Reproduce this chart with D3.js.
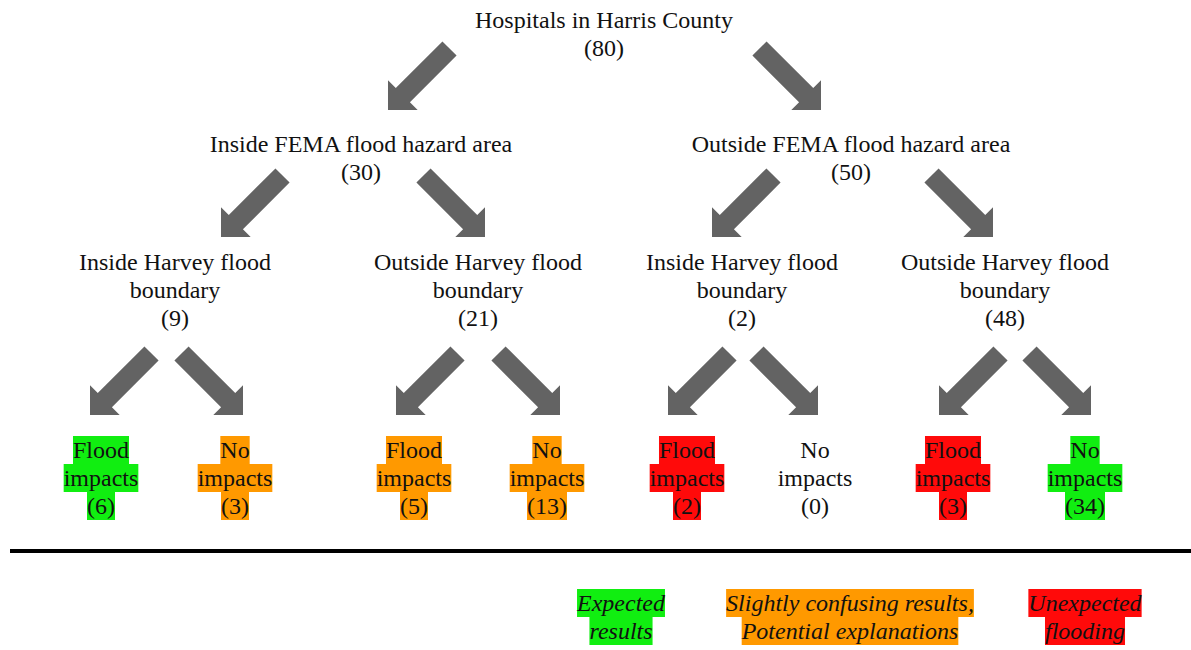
<!DOCTYPE html>
<html>
<head>
<meta charset="utf-8">
<script src="https://cdn.jsdelivr.net/npm/d3@7"></script>
<style>
  body { margin: 0; background: #fff; }
  svg { display: block; }
</style>
</head>
<body>
<svg id="chart" width="1191" height="650"></svg>
<script>
// tree data: labels, hospital counts, and which parent each node hangs from
var nodeLabels = [
    ["Hospitals in Harris County"],
    ["Inside FEMA flood hazard area"],
    ["Outside FEMA flood hazard area"],
    ["Inside Harvey flood", "boundary"],
    ["Outside Harvey flood", "boundary"],
    ["Inside Harvey flood", "boundary"],
    ["Outside Harvey flood", "boundary"],
    ["Flood", "impacts"], ["No", "impacts"],
    ["Flood", "impacts"], ["No", "impacts"],
    ["Flood", "impacts"], ["No", "impacts"],
    ["Flood", "impacts"], ["No", "impacts"]
];
var nodeCounts = [80, 30, 50, 9, 21, 2, 48, 6, 3, 5, 13, 2, 0, 3, 34];
var nodeParent = [null, 0, 0, 1, 1, 2, 2, 3, 3, 4, 4, 5, 5, 6, 6];
var nodeLevel  = [0, 1, 1, 2, 2, 2, 2, 3, 3, 3, 3, 3, 3, 3, 3];
// outcome class of the leaves (null = no highlight)
var nodeOutcome = [null, null, null, null, null, null, null,
    "expected", "confusing", "confusing", "confusing", "unexpected", null, "unexpected", "expected"];

var legendKeys   = ["expected", "confusing", "unexpected"];
var legendLabels = [["Expected", "results"], ["Slightly confusing results,", "Potential explanations"], ["Unexpected", "flooding"]];

// layout
var nodeX  = [604, 361, 851, 175, 478, 742, 1005, 101, 235, 414, 547, 687, 815, 953, 1085];
var levelY = [28, 152, 270, 458];          // first baseline of each level
var lineH  = 28;
var arrowTipX = [null, 388, 821, 221, 485, 712, 993, 90, 243, 396, 560, 668, 818, 939, 1091];
var arrowTipY = [null, 110, 237, 415];     // per child level
var legendX = [621, 850, 1085];
var legendY = 611;

var FONT = "'Liberation Serif', 'Times New Roman', serif";

var color = d3.scaleOrdinal()
    .domain(legendKeys)
    .range(["#11ee11", "#ff9900", "#ff0a0a"]);

var svg = d3.select("#chart");

// ---- arrows ----
var L = 87, hw = 21, hl = 21, sw = 10;
var arrowShape = d3.line()([
    [0, -sw], [L - hl, -sw], [L - hl, -hw], [L, 0], [L - hl, hw], [L - hl, sw], [0, sw]
]) + "Z";

var arrowIdx = d3.range(nodeLabels.length).filter(function (i) { return nodeParent[i] !== null; });

svg.selectAll("path.arrow")
    .data(arrowIdx)
    .enter()
    .append("path")
    .attr("class", "arrow")
    .attr("d", arrowShape)
    .attr("fill", "#636363")
    .attr("transform", function (i) {
        var left = nodeX[i] < nodeX[nodeParent[i]];
        var ang = left ? 135 : 45;
        return "translate(" + arrowTipX[i] + "," + arrowTipY[nodeLevel[i]] + ") rotate(" + ang + ") translate(" + (-L) + ",0)";
    });

// ---- nodes ----
function drawBlock(g, lines, cx, y0, fill, italic) {
    lines.forEach(function (ln, k) {
        var y = y0 + k * lineH;
        var rect = g.append("rect");
        var t = g.append("text")
            .attr("x", cx)
            .attr("y", y)
            .attr("text-anchor", "middle")
            .attr("font-family", FONT)
            .attr("font-size", "24px")
            .attr("font-style", italic ? "italic" : "normal")
            .attr("fill", "#111")
            .text(ln);
        if (fill) {
            var w = t.node().getComputedTextLength();
            rect.attr("x", cx - w / 2)
                .attr("y", y - 22)
                .attr("width", w)
                .attr("height", lineH)
                .attr("fill", fill);
        } else {
            rect.remove();
        }
    });
}

nodeLabels.forEach(function (lab, i) {
    var g = svg.append("g").attr("class", "node");
    var lines = lab.concat(["(" + nodeCounts[i] + ")"]);
    var fill = nodeOutcome[i] ? color(nodeOutcome[i]) : null;
    drawBlock(g, lines, nodeX[i], levelY[nodeLevel[i]], fill, false);
});

// ---- divider ----
svg.append("line")
    .attr("x1", 10).attr("x2", 1191)
    .attr("y1", 551).attr("y2", 551)
    .attr("stroke", "#000")
    .attr("stroke-width", 4);

// ---- legend ----
legendKeys.forEach(function (k, i) {
    var g = svg.append("g").attr("class", "legend");
    drawBlock(g, legendLabels[i], legendX[i], legendY, color(k), true);
});
</script>
</body>
</html>
